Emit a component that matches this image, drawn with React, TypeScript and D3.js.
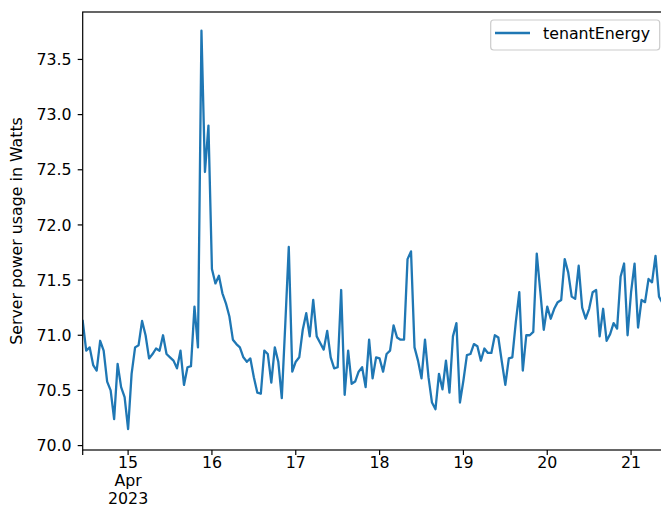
import React from "react";
import * as d3 from "d3";

// Hourly readings, starting 2023-04-14 11:00
const startTime = new Date(2023, 3, 14, 11, 0, 0);
const seriesName = "tenantEnergy";
const tenantEnergy = [
  71.13, 70.86, 70.89, 70.73, 70.68, 70.95, 70.86, 70.58, 70.5, 70.24,
  70.74, 70.53, 70.44, 70.15, 70.65, 70.89, 70.91, 71.13, 71.0, 70.79,
  70.83, 70.88, 70.86, 71.0, 70.83, 70.8, 70.77, 70.7, 70.86, 70.55,
  70.71, 70.72, 71.26, 70.89, 73.76, 72.48, 72.9, 71.6, 71.47, 71.54,
  71.38, 71.29, 71.17, 70.96, 70.92, 70.89, 70.8, 70.76, 70.79, 70.62,
  70.48, 70.47, 70.86, 70.83, 70.57, 70.89, 70.76, 70.43, 71.1, 71.8,
  70.67, 70.76, 70.8, 71.05, 71.2, 70.99, 71.32, 70.99, 70.93, 70.87,
  71.04, 70.8, 70.7, 70.71, 71.41, 70.46, 70.86, 70.56, 70.58, 70.67,
  70.71, 70.53, 70.96, 70.61, 70.8, 70.79, 70.67, 70.83, 70.86, 71.09,
  70.98, 70.96, 70.96, 71.69, 71.76, 70.89, 70.77, 70.61, 70.96, 70.62,
  70.39, 70.33, 70.65, 70.51, 70.77, 70.48, 70.99, 71.11, 70.39, 70.59,
  70.82, 70.83, 70.92, 70.9, 70.77, 70.88, 70.84, 70.84, 71.0, 70.98,
  70.76, 70.55, 70.79, 70.8, 71.12, 71.39, 70.68, 71.0, 71.0, 71.03,
  71.74, 71.4, 71.05, 71.26, 71.15, 71.24, 71.3, 71.32, 71.69, 71.57,
  71.35, 71.33, 71.63, 71.25, 71.15, 71.24, 71.39, 71.41, 70.99, 71.24,
  70.95, 71.01, 71.11, 71.06, 71.53, 71.65, 71.0, 71.39, 71.65, 71.07,
  71.32, 71.3, 71.51, 71.48, 71.72, 71.35, 71.29, 71.25,
];
const yTicks = [70.0, 70.5, 71.0, 71.5, 72.0, 72.5, 73.0, 73.5];
const dayTickLabels = ["15", "16", "17", "18", "19", "20", "21"];
const monthLabel = "Apr";
const yearLabel = "2023";
const yLabel = "Server power usage in Watts";

const W = 661;
const H = 508;
const plot = { left: 82.7, right: 666, top: 12, bottom: 450 };
const FONT = "'DejaVu Sans', sans-serif";
const FS = 15.8;
const LINE_COLOR = "#1f77b4";

export default function App() {
  const times = tenantEnergy.map((_, i) => d3.timeHour.offset(startTime, i));
  const points = tenantEnergy.map((v, i) => ({ t: times[i], v }));

  const x = d3
    .scaleTime()
    .domain([times[0], times[times.length - 1]])
    .range([plot.left, plot.right]);
  const y = d3.scaleLinear().domain([69.96, 73.93]).range([plot.bottom, plot.top]);

  const line = d3
    .line<{ t: Date; v: number }>()
    .x((d) => x(d.t))
    .y((d) => y(d.v));

  const dayTicks = dayTickLabels.map((lab, i) => ({
    lab,
    t: d3.timeDay.offset(new Date(2023, 3, 15), i),
  }));

  const tickLen = 5;
  const fmt = d3.format(".1f");

  // legend geometry, anchored to the upper-right corner of the axes
  const legend = { x: 490.7, y: 20, w: 169, h: 30 };

  return (
    <svg
      width={W}
      height={H}
      style={{ position: "absolute", left: 0, top: 0, background: "#fff" }}
      fontFamily={FONT}
    >
      <defs>
        <clipPath id="plotClip">
          <rect x={plot.left} y={plot.top} width={plot.right - plot.left} height={plot.bottom - plot.top} />
        </clipPath>
      </defs>
      <rect x={0} y={0} width={W} height={H} fill="#fff" />

      <path
        d={line(points) || ""}
        fill="none"
        stroke={LINE_COLOR}
        strokeWidth={2.3}
        strokeLinejoin="round"
        strokeLinecap="square"
        clipPath="url(#plotClip)"
      />

      {/* spines */}
      <rect
        x={plot.left}
        y={plot.top}
        width={plot.right - plot.left}
        height={plot.bottom - plot.top}
        fill="none"
        stroke="#000"
        strokeWidth={1.2}
      />

      {/* y axis */}
      {yTicks.map((v) => (
        <g key={v}>
          <line x1={plot.left - tickLen} x2={plot.left} y1={y(v)} y2={y(v)} stroke="#000" strokeWidth={1.2} />
          <text x={plot.left - tickLen - 6} y={y(v)} dy="0.36em" textAnchor="end" fontSize={FS} fill="#000">
            {fmt(v)}
          </text>
        </g>
      ))}
      <text
        transform={`translate(22,${(plot.top + plot.bottom) / 2}) rotate(-90)`}
        textAnchor="middle"
        fontSize={FS}
        fill="#000"
      >
        {yLabel}
      </text>

      {/* x axis: day ticks, the first one also carries month and year */}
      <line x1={plot.left} x2={plot.left} y1={plot.bottom} y2={plot.bottom + tickLen} stroke="#000" strokeWidth={1.2} />
      {dayTicks.map((d, i) => (
        <g key={d.lab}>
          <line x1={x(d.t)} x2={x(d.t)} y1={plot.bottom} y2={plot.bottom + tickLen} stroke="#000" strokeWidth={1.2} />
          <text x={x(d.t)} y={468.4} textAnchor="middle" fontSize={FS} fill="#000">
            {d.lab}
            {i === 0 && (
              <>
                <tspan x={x(d.t)} dy={17.9}>
                  {monthLabel}
                </tspan>
                <tspan x={x(d.t)} dy={17.9}>
                  {yearLabel}
                </tspan>
              </>
            )}
          </text>
        </g>
      ))}

      {/* legend */}
      <rect
        x={legend.x}
        y={legend.y}
        width={legend.w}
        height={legend.h}
        rx={3}
        fill="#fff"
        fillOpacity={0.8}
        stroke="#cccccc"
        strokeWidth={1.2}
      />
      <line x1={495} x2={530} y1={33} y2={33} stroke={LINE_COLOR} strokeWidth={2.3} />
      <text x={543} y={38.6} fontSize={FS} fill="#000">
        {seriesName}
      </text>
    </svg>
  );
}
